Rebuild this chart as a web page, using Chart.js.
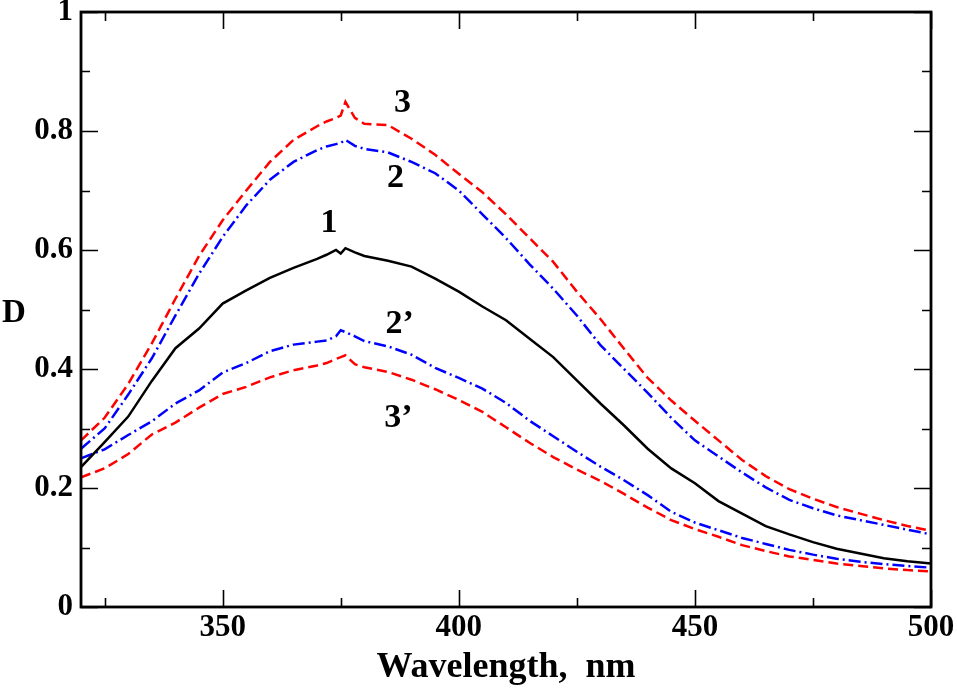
<!DOCTYPE html>
<html>
<head>
<meta charset="utf-8">
<script src="https://cdn.jsdelivr.net/npm/chart.js@4/dist/chart.umd.min.js"></script>
<style>
  html, body { margin: 0; padding: 0; background: #fff; }
  #wrap { width: 957px; height: 693px; }
</style>
</head>
<body>
<div id="wrap"><canvas id="chart" width="957" height="693"></canvas></div>
<script>
// wavelength grid, nm
const wavelengths = [320, 325, 330, 335, 340, 345, 350, 355, 360, 365, 370,
                     372, 374, 375, 376, 378,
                     380, 385, 390, 395, 400, 405, 410, 415, 420, 425, 430, 435, 440, 445,
                     450, 455, 460, 465, 470, 475, 480, 485, 490, 495, 500];

// curve 1 (black, solid)
const curve1 = [0.235, 0.277, 0.320, 0.380, 0.435, 0.468, 0.510, 0.532, 0.553, 0.570, 0.585,
                0.592, 0.600, 0.594, 0.603, 0.596,
                0.590, 0.582, 0.572, 0.552, 0.530, 0.505, 0.482, 0.451, 0.420, 0.381, 0.342, 0.305, 0.266, 0.233,
                0.208, 0.178, 0.157, 0.136, 0.122, 0.109, 0.098, 0.090, 0.082, 0.077, 0.073];

// curve 2 (blue, dash-dot, upper)
const curve2 = [0.266, 0.300, 0.357, 0.418, 0.490, 0.560, 0.622, 0.675, 0.718, 0.748, 0.768,
                0.774, 0.778, 0.780, 0.785, 0.775,
                0.770, 0.764, 0.748, 0.729, 0.700, 0.660, 0.620, 0.576, 0.535, 0.490, 0.440, 0.400, 0.360, 0.318,
                0.280, 0.253, 0.226, 0.201, 0.180, 0.166, 0.154, 0.146, 0.138, 0.130, 0.122];

// curve 3 (red, dashed, upper)
const curve3 = [0.280, 0.318, 0.375, 0.443, 0.518, 0.590, 0.650, 0.700, 0.748, 0.785, 0.808,
                0.816, 0.822, 0.826, 0.849, 0.822,
                0.812, 0.810, 0.787, 0.760, 0.728, 0.697, 0.660, 0.620, 0.580, 0.530, 0.484, 0.434, 0.385, 0.347,
                0.313, 0.280, 0.247, 0.220, 0.198, 0.182, 0.168, 0.157, 0.146, 0.136, 0.128];

// curve 2' (blue, dash-dot, lower)
const curve2p = [0.250, 0.265, 0.289, 0.312, 0.342, 0.364, 0.394, 0.410, 0.430, 0.441, 0.446,
                 0.448, 0.455, 0.465, 0.462, 0.455,
                 0.447, 0.438, 0.424, 0.402, 0.385, 0.367, 0.343, 0.313, 0.287, 0.261, 0.236, 0.213, 0.188, 0.160,
                 0.142, 0.129, 0.116, 0.106, 0.096, 0.088, 0.081, 0.076, 0.072, 0.069, 0.066];

// curve 3' (red, dashed, lower)
const curve3p = [0.218, 0.233, 0.257, 0.290, 0.310, 0.335, 0.358, 0.370, 0.386, 0.398, 0.406,
                 0.410, 0.417, 0.420, 0.423, 0.408,
                 0.403, 0.395, 0.382, 0.366, 0.348, 0.328, 0.302, 0.276, 0.252, 0.231, 0.212, 0.190, 0.167, 0.146,
                 0.131, 0.118, 0.104, 0.094, 0.085, 0.079, 0.073, 0.069, 0.065, 0.062, 0.060];

const xMajor = [350, 400, 450, 500];
const xMinor = [325, 375, 425, 475];
const yMajor = [0, 0.2, 0.4, 0.6, 0.8, 1];
const yMinor = [0.1, 0.3, 0.5, 0.7, 0.9];

// curve labels: text, wavelength, D
const labelText = ['3', '2', '1', '2\u2019', '3\u2019'];
const labelX    = [388.1, 386.6, 372.5, 387.5, 387.2];
const labelY    = [0.847, 0.720, 0.645, 0.475, 0.317];

const serif = '"Liberation Serif", "Times New Roman", serif';

function pts(arr) { return wavelengths.map((w, i) => ({ x: w, y: arr[i] })); }

function ds(data, color, dash) {
  return { data: pts(data), borderColor: color, borderWidth: 2.5, borderDash: dash,
           pointRadius: 0, showLine: true, tension: 0, fill: false };
}

const framePlugin = {
  id: 'frame',
  afterDatasetsDraw(chart) {
    const c = chart.ctx, a = chart.chartArea;
    const xs = chart.scales.x, ys = chart.scales.y;
    c.save();
    c.strokeStyle = '#000';
    // ticks on all four sides
    c.lineWidth = 1.6;
    c.beginPath();
    const xt = (v, len) => {
      const p = Math.round(xs.getPixelForValue(v)) + 0.5;
      c.moveTo(p, a.bottom); c.lineTo(p, a.bottom - len);
      c.moveTo(p, a.top);    c.lineTo(p, a.top + len);
    };
    const yt = (v, len) => {
      const p = Math.round(ys.getPixelForValue(v)) + 0.5;
      c.moveTo(a.left, p);  c.lineTo(a.left + len, p);
      c.moveTo(a.right, p); c.lineTo(a.right - len, p);
    };
    xMajor.forEach(v => xt(v, 17));
    xMinor.forEach(v => xt(v, 9));
    yMajor.forEach(v => yt(v, 17));
    yMinor.forEach(v => yt(v, 9));
    c.stroke();
    // frame
    c.lineWidth = 2.8;
    c.strokeRect(a.left, a.top, a.right - a.left, a.bottom - a.top);

    // curve labels
    c.fillStyle = '#000';
    c.font = 'bold 34px ' + serif;
    c.textAlign = 'center';
    c.textBaseline = 'middle';
    labelText.forEach((t, i) => {
      c.fillText(t, xs.getPixelForValue(labelX[i]), ys.getPixelForValue(labelY[i]));
    });

    // y axis title (upright)
    c.font = 'bold 33px ' + serif;
    c.fillText('D', 14, 313);
    c.restore();
  }
};

new Chart(document.getElementById('chart'), {
  type: 'scatter',
  data: {
    datasets: [
      ds(curve3, '#ff0000', [10, 5]),
      ds(curve2, '#0000ff', [12, 4, 2, 4]),
      ds(curve1, '#000000', []),
      ds(curve2p, '#0000ff', [12, 4, 2, 4]),
      ds(curve3p, '#ff0000', [10, 5])
    ]
  },
  options: {
    responsive: false,
    animation: false,
    events: [],
    layout: { padding: { top: 12, right: 26, left: 0, bottom: 0 } },
    plugins: { legend: { display: false }, tooltip: { enabled: false } },
    scales: {
      x: {
        type: 'linear', min: 320, max: 500,
        afterBuildTicks: s => { s.ticks = xMajor.map(v => ({ value: v })); },
        afterFit: s => { s.height = 86; s.paddingLeft = 0; s.paddingRight = 0; },
        grid: { display: false, drawTicks: false },
        border: { display: false },
        ticks: { color: '#000', padding: 4, maxRotation: 0, autoSkip: false,
                 font: { family: serif, size: 31, weight: 'bold', lineHeight: 1.1 },
                 callback: v => String(v) },
        title: { display: true, text: 'Wavelength,  nm', color: '#000',
                 font: { family: serif, size: 36, weight: 'bold' },
                 padding: { top: 0, bottom: 4 } }
      },
      y: {
        type: 'linear', min: 0, max: 1,
        afterBuildTicks: s => { s.ticks = yMajor.map(v => ({ value: v })); },
        afterFit: s => { s.width = 81; s.paddingTop = 0; s.paddingBottom = 0; },
        grid: { display: false, drawTicks: false },
        border: { display: false },
        ticks: { color: '#000', padding: 8, autoSkip: false,
                 font: { family: serif, size: 31, weight: 'bold' },
                 callback: v => String(v) }
      }
    }
  },
  plugins: [framePlugin]
});
</script>
</body>
</html>
